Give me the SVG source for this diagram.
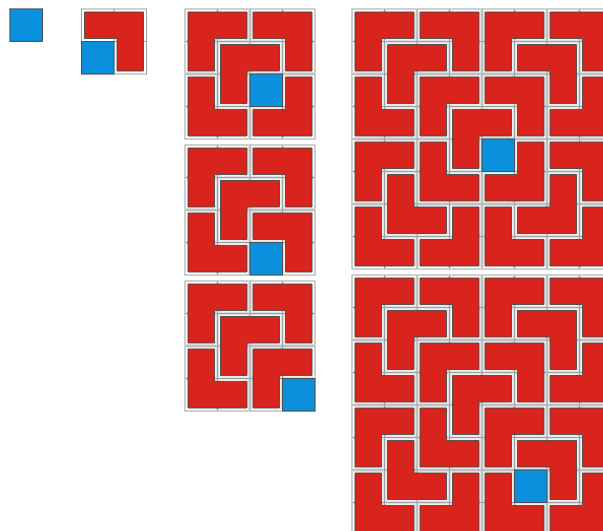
<svg xmlns="http://www.w3.org/2000/svg" xmlns:xlink="http://www.w3.org/1999/xlink" width="603" height="531" viewBox="0 0 603 531">
<style>
.grid{fill:none;stroke:#a0a0a0;stroke-width:1}
.halo{fill:none;stroke:#e2e2e2;stroke-width:4}
.frame{fill:#ffffff;stroke:#a0a0a0;stroke-width:1}
.tile{fill:#d8241c;stroke:#4a4a4a;stroke-width:0.9;stroke-linejoin:miter}
.hole{fill:#0a90dc;stroke:#4a4a4a;stroke-width:0.9}
</style>
<defs>
<path id="mTL" class="tile" d="M35.5 3H62V62H3V35.5H35.5Z"/>
<path id="mTR" class="tile" d="M3 3H29.5V35.5H62V62H3Z"/>
<path id="mBL" class="tile" d="M3 3H62V62H35.5V29.5H3Z"/>
<path id="mBR" class="tile" d="M3 3H62V29.5H29.5V62H3Z"/>
</defs>
<rect width="603" height="531" fill="#ffffff"/>

<g id="board1">
<rect class="frame" x="10" y="9" width="32.5" height="32.5"/>
<rect class="hole" x="10" y="9" width="32.5" height="32.5"/>
</g>

<g id="board2">
<rect class="frame" x="81.5" y="9" width="65" height="65"/>
<path class="grid" d="M114 9V74M81.5 41.5H146.5"/>
<use xlink:href="#mBL" x="81.5" y="9"/>
<rect class="hole" x="81.5" y="41.5" width="32.5" height="32.5"/>
</g>

<g id="board4a">
<rect class="frame" x="185" y="9" width="130" height="130"/>
<path class="halo" d="M217.5 9V139M250 9V139M282.5 9V139M185 41.5H315M185 74H315M185 106.5H315"/>
<path class="grid" d="M217.5 9V139M250 9V139M282.5 9V139M185 41.5H315M185 74H315M185 106.5H315"/>
<use xlink:href="#mBR" x="185" y="9"/>
<use xlink:href="#mBL" x="250" y="9"/>
<use xlink:href="#mTR" x="185" y="74"/>
<use xlink:href="#mTL" x="250" y="74"/>
<use xlink:href="#mBR" x="217.5" y="41.5"/>
<rect class="hole" x="250" y="74" width="32.5" height="32.5"/>
</g>

<g id="board4b">
<rect class="frame" x="185" y="145" width="130" height="130"/>
<path class="halo" d="M217.5 145V275M250 145V275M282.5 145V275M185 177.5H315M185 210H315M185 242.5H315"/>
<path class="grid" d="M217.5 145V275M250 145V275M282.5 145V275M185 177.5H315M185 210H315M185 242.5H315"/>
<use xlink:href="#mBR" x="185" y="145"/>
<use xlink:href="#mBL" x="250" y="145"/>
<use xlink:href="#mTR" x="185" y="210"/>
<use xlink:href="#mBL" x="250" y="210"/>
<use xlink:href="#mBR" x="217.5" y="177.5"/>
<rect class="hole" x="250" y="242.5" width="32.5" height="32.5"/>
</g>

<g id="board4c">
<rect class="frame" x="185" y="281" width="130" height="130"/>
<path class="halo" d="M217.5 281V411M250 281V411M282.5 281V411M185 313.5H315M185 346H315M185 378.5H315"/>
<path class="grid" d="M217.5 281V411M250 281V411M282.5 281V411M185 313.5H315M185 346H315M185 378.5H315"/>
<use xlink:href="#mBR" x="185" y="281"/>
<use xlink:href="#mBL" x="250" y="281"/>
<use xlink:href="#mTR" x="185" y="346"/>
<use xlink:href="#mBR" x="250" y="346"/>
<use xlink:href="#mBR" x="217.5" y="313.5"/>
<rect class="hole" x="282.5" y="378.5" width="32.5" height="32.5"/>
</g>

<g id="board8a">
<rect class="frame" x="352" y="9" width="260" height="260"/>
<path class="halo" d="M384.5 9V269M417 9V269M449.5 9V269M482 9V269M514.5 9V269M547 9V269M579.5 9V269M352 41.5H612M352 74H612M352 106.5H612M352 139H612M352 171.5H612M352 204H612M352 236.5H612"/>
<path class="grid" d="M384.5 9V269M417 9V269M449.5 9V269M482 9V269M514.5 9V269M547 9V269M579.5 9V269M352 41.5H612M352 74H612M352 106.5H612M352 139H612M352 171.5H612M352 204H612M352 236.5H612"/>
<use xlink:href="#mBR" x="352" y="9"/>
<use xlink:href="#mBL" x="417" y="9"/>
<use xlink:href="#mTR" x="352" y="74"/>
<use xlink:href="#mBR" x="417" y="74"/>
<use xlink:href="#mBR" x="384.5" y="41.5"/>
<use xlink:href="#mBR" x="482" y="9"/>
<use xlink:href="#mBL" x="547" y="9"/>
<use xlink:href="#mBL" x="482" y="74"/>
<use xlink:href="#mTL" x="547" y="74"/>
<use xlink:href="#mBL" x="514.5" y="41.5"/>
<use xlink:href="#mBR" x="352" y="139"/>
<use xlink:href="#mTR" x="417" y="139"/>
<use xlink:href="#mTR" x="352" y="204"/>
<use xlink:href="#mTL" x="417" y="204"/>
<use xlink:href="#mTR" x="384.5" y="171.5"/>
<use xlink:href="#mTL" x="482" y="139"/>
<use xlink:href="#mBL" x="547" y="139"/>
<use xlink:href="#mTR" x="482" y="204"/>
<use xlink:href="#mTL" x="547" y="204"/>
<use xlink:href="#mTL" x="514.5" y="171.5"/>
<use xlink:href="#mBR" x="449.5" y="106.5"/>
<rect class="hole" x="482" y="139" width="32.5" height="32.5"/>
</g>

<g id="board8b">
<rect class="frame" x="352" y="275" width="260" height="260"/>
<path class="halo" d="M384.5 275V535M417 275V535M449.5 275V535M482 275V535M514.5 275V535M547 275V535M579.5 275V535M352 307.5H612M352 340H612M352 372.5H612M352 405H612M352 437.5H612M352 470H612M352 502.5H612"/>
<path class="grid" d="M384.5 275V535M417 275V535M449.5 275V535M482 275V535M514.5 275V535M547 275V535M579.5 275V535M352 307.5H612M352 340H612M352 372.5H612M352 405H612M352 437.5H612M352 470H612M352 502.5H612"/>
<use xlink:href="#mBR" x="352" y="275"/>
<use xlink:href="#mBL" x="417" y="275"/>
<use xlink:href="#mTR" x="352" y="340"/>
<use xlink:href="#mBR" x="417" y="340"/>
<use xlink:href="#mBR" x="384.5" y="307.5"/>
<use xlink:href="#mBR" x="482" y="275"/>
<use xlink:href="#mBL" x="547" y="275"/>
<use xlink:href="#mBL" x="482" y="340"/>
<use xlink:href="#mTL" x="547" y="340"/>
<use xlink:href="#mBL" x="514.5" y="307.5"/>
<use xlink:href="#mBR" x="352" y="405"/>
<use xlink:href="#mTR" x="417" y="405"/>
<use xlink:href="#mTR" x="352" y="470"/>
<use xlink:href="#mTL" x="417" y="470"/>
<use xlink:href="#mTR" x="384.5" y="437.5"/>
<use xlink:href="#mBR" x="482" y="405"/>
<use xlink:href="#mBL" x="547" y="405"/>
<use xlink:href="#mTR" x="482" y="470"/>
<use xlink:href="#mTL" x="547" y="470"/>
<use xlink:href="#mBL" x="514.5" y="437.5"/>
<use xlink:href="#mBR" x="449.5" y="372.5"/>
<rect class="hole" x="514.5" y="470" width="32.5" height="32.5"/>
</g>
<g id="connectors"/>
</svg>
